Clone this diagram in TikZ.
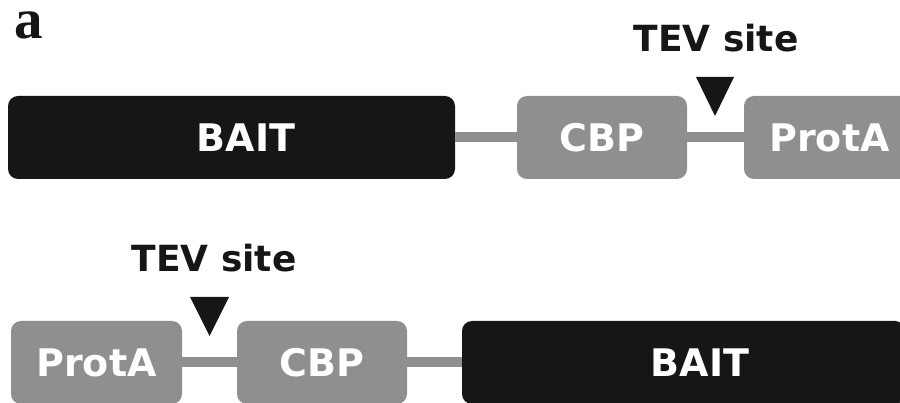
\documentclass[tikz,border=0pt]{standalone}
\usepackage{fontspec}
\setmainfont{DejaVu Sans}
\newfontfamily\panelfont{Liberation Serif}
\definecolor{domgray}{HTML}{8F8F8F}
\definecolor{baitblack}{HTML}{161616}
\begin{document}
\begin{tikzpicture}[x=1pt,y=-1pt,
  dom/.style={rounded corners=10pt, minimum height=83pt, inner sep=0pt, text=white,
              font=\fontsize{38}{40}\selectfont\bfseries},
  baitbox/.style={dom, fill=baitblack},
  tagbox/.style={dom, fill=domgray},
  linker/.style={draw=domgray, line width=10pt},
  sitelabel/.style={font=\fontsize{36}{40}\selectfont\bfseries, text=baitblack, anchor=base, inner sep=0pt},
  cutmark/.style={fill=baitblack},
  panel/.style={font=\panelfont\fontsize{57}{57}\selectfont\bfseries, text=baitblack, anchor=base west, inner sep=0pt}]
\useasboundingbox (0,0) rectangle (900,403);

\node[panel] (lbl) at (14,39) {a};

% top construct
\node[baitbox, minimum width=447pt] (bait1) at (231.5,137.5) {\hspace*{29pt}BAIT};
\node[tagbox, minimum width=170pt] (cbp1) at (602,137.5) {CBP};
\node[tagbox, minimum width=171pt] (prota1) at (829.5,137.5) {ProtA};
\draw[linker] (bait1.east) -- (cbp1.west);
\draw[linker] (cbp1.east) -- (prota1.west);
\coordinate (cut1) at (715,116);
\fill[cutmark] (cut1) -- ++(-19,-39) -- ++(38,0) -- cycle;
\node[sitelabel] (tev1) at (716,52) {TEV site};

% bottom construct
\node[tagbox, minimum width=171pt] (prota2) at (96.5,362.5) {ProtA};
\node[tagbox, minimum width=170pt] (cbp2) at (322,362.5) {CBP};
\node[baitbox, minimum width=443pt] (bait2) at (683.5,362.5) {\hspace*{33pt}BAIT};
\draw[linker] (prota2.east) -- (cbp2.west);
\draw[linker] (cbp2.east) -- (bait2.west);
\coordinate (cut2) at (209.5,336);
\fill[cutmark] (cut2) -- ++(-19.5,-39) -- ++(39,0) -- cycle;
\node[sitelabel] (tev2) at (214,272) {TEV site};
\end{tikzpicture}
\end{document}
